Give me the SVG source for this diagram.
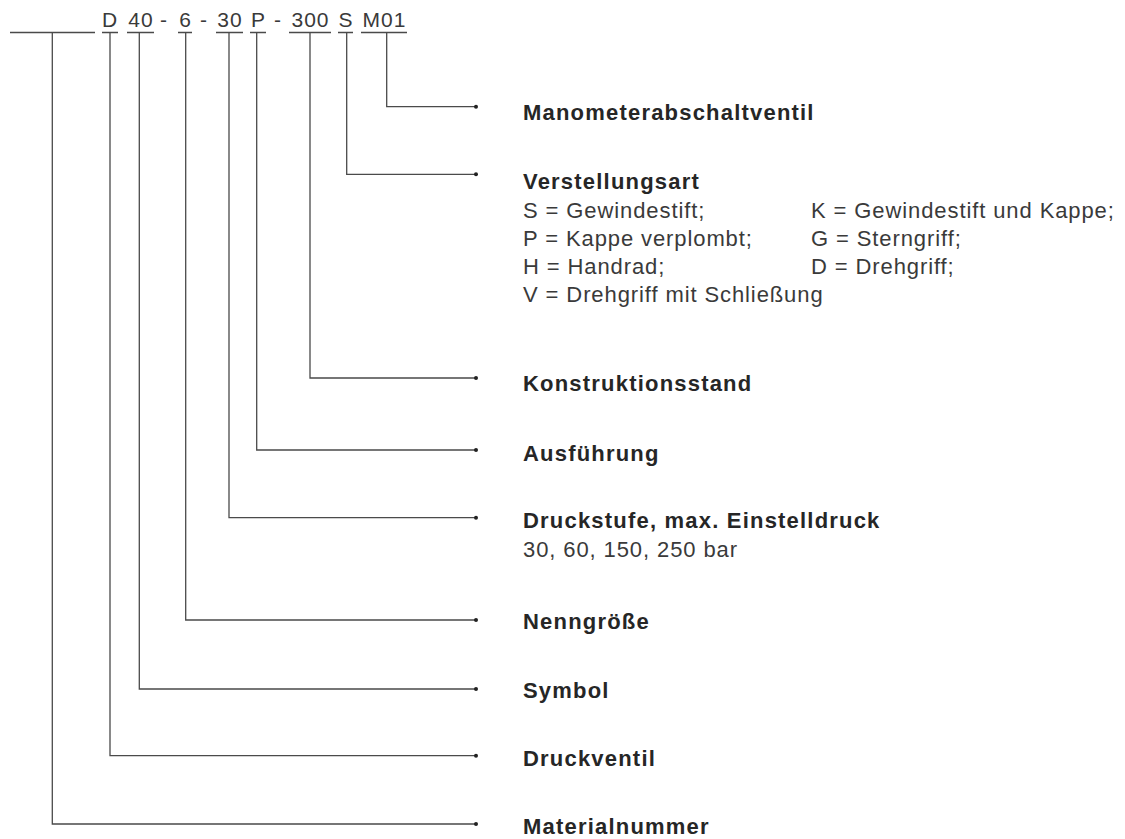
<svg xmlns="http://www.w3.org/2000/svg" width="1125" height="839" viewBox="0 0 1125 839">
<style>
.hd{font-family:"Liberation Sans",Arial,sans-serif;font-size:21px;letter-spacing:1px;fill:#3a3a3a;text-anchor:middle}
.t{font-family:"Liberation Sans",Arial,sans-serif;font-size:22px;font-weight:bold;letter-spacing:1.2px;fill:#262626}
.r{font-family:"Liberation Sans",Arial,sans-serif;font-size:22px;letter-spacing:0.9px;fill:#3a3a3a}
.ln{fill:none;stroke:#4a4a4a;stroke-width:1.3}
.dot{fill:#222}
</style>
<rect width="1125" height="839" fill="#fff"/>
<g id="header">
<text class="hd" x="110" y="27">D</text>
<text class="hd" x="141" y="27">40</text>
<text class="hd" x="164" y="27">-</text>
<text class="hd" x="185.5" y="27">6</text>
<text class="hd" x="204" y="27">-</text>
<text class="hd" x="230" y="27">30</text>
<text class="hd" x="258.5" y="27">P</text>
<text class="hd" x="278" y="27">-</text>
<text class="hd" x="310.5" y="27">300</text>
<text class="hd" x="346" y="27">S</text>
<text class="hd" x="384.5" y="27">M01</text>
</g>
<g id="connectors">
<path class="ln" d="M10 32.5H95M102 32.5H118M127 32.5H154M178 32.5H192M216 32.5H243M250 32.5H266M289 32.5H331M338 32.5H353M361 32.5H407"/>
<path class="ln" d="M386.7 32.5V106.7H476"/>
<path class="ln" d="M346.7 32.5V174.3H476"/>
<path class="ln" d="M310 32.5V378H476"/>
<path class="ln" d="M256.7 32.5V450H476"/>
<path class="ln" d="M229 32.5V517.7H476"/>
<path class="ln" d="M185.7 32.5V620H476"/>
<path class="ln" d="M139.3 32.5V689H476"/>
<path class="ln" d="M110 32.5V755.7H476"/>
<path class="ln" d="M52.3 32.5V824H476"/>
<circle class="dot" cx="476" cy="106.7" r="2"/>
<circle class="dot" cx="476" cy="174.3" r="2"/>
<circle class="dot" cx="476" cy="378" r="2"/>
<circle class="dot" cx="476" cy="450" r="2"/>
<circle class="dot" cx="476" cy="517.7" r="2"/>
<circle class="dot" cx="476" cy="620" r="2"/>
<circle class="dot" cx="476" cy="689" r="2"/>
<circle class="dot" cx="476" cy="755.7" r="2"/>
<circle class="dot" cx="476" cy="824" r="2"/>
</g>
<g id="n-manometer"><text class="t" x="523" y="120">Manometerabschaltventil</text></g>
<g id="n-verstellung">
<text class="t" x="523" y="189">Verstellungsart</text>
<text class="r" x="523" y="218">S = Gewindestift;</text>
<text class="r" x="811" y="218">K = Gewindestift und Kappe;</text>
<text class="r" x="523" y="246">P = Kappe verplombt;</text>
<text class="r" x="811" y="246">G = Sterngriff;</text>
<text class="r" x="523" y="274">H = Handrad;</text>
<text class="r" x="811" y="274">D = Drehgriff;</text>
<text class="r" x="523" y="302">V = Drehgriff mit Schließung</text>
</g>
<g id="n-konstruktion"><text class="t" x="523" y="391">Konstruktionsstand</text></g>
<g id="n-ausfuehrung"><text class="t" x="523" y="461">Ausführung</text></g>
<g id="n-druckstufe">
<text class="t" x="523" y="527.5">Druckstufe, max. Einstelldruck</text>
<text class="r" x="523" y="557">30, 60, 150, 250 bar</text>
</g>
<g id="n-nenngroesse"><text class="t" x="523" y="629">Nenngröße</text></g>
<g id="n-symbol"><text class="t" x="523" y="698">Symbol</text></g>
<g id="n-druckventil"><text class="t" x="523" y="766">Druckventil</text></g>
<g id="n-material"><text class="t" x="523" y="834">Materialnummer</text></g>
</svg>
